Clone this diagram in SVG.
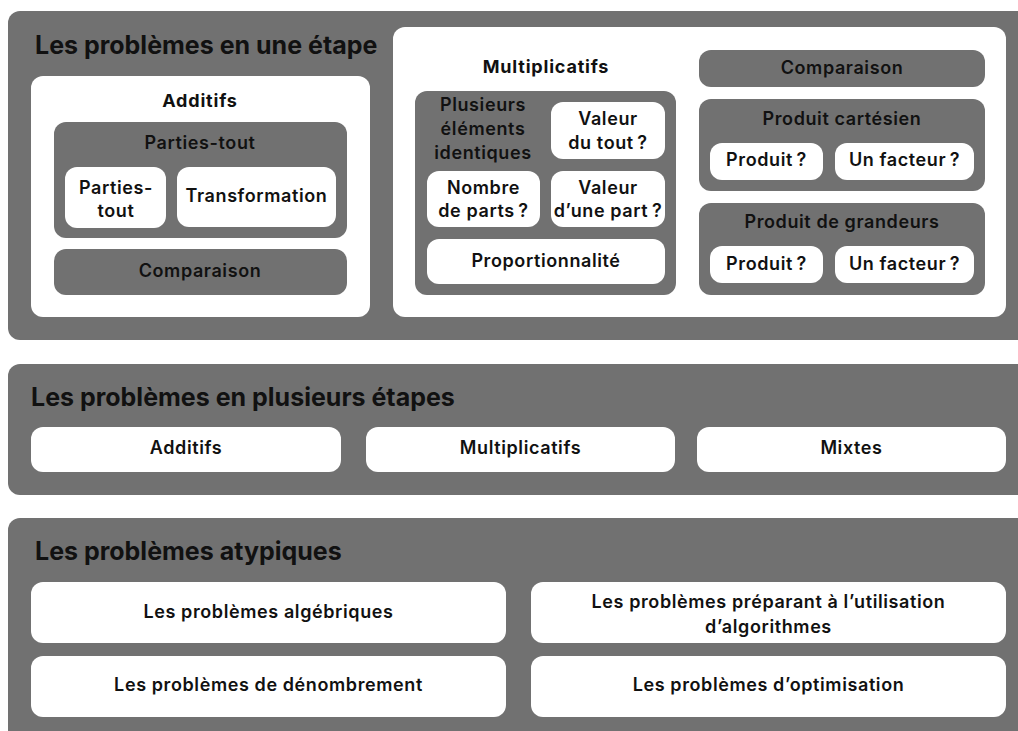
<svg xmlns="http://www.w3.org/2000/svg" width="1018" height="731" viewBox="0 0 1018 731">
<style>
.panel{fill:#717171}
.gray{fill:#717171}
.white{fill:#ffffff}
text{font-family:Inter,"Liberation Sans",sans-serif;fill:#111111;text-anchor:middle}
.h1{font-size:25px;font-weight:700;text-anchor:start}
.h2{font-size:18px;font-weight:700;letter-spacing:0.8px}
.lb{font-size:18px;font-weight:600;letter-spacing:0.6px}
</style>
<rect width="1018" height="731" fill="#ffffff"/>
<g id="panel-une-etape">
<rect class="panel" x="8" y="11" width="1030" height="329" rx="12"/>
<text class="h1" x="35" y="54">Les problèmes en une étape</text>
</g>
<g id="additifs">
<rect class="white" x="31" y="76" width="339" height="241" rx="12"/>
<text class="h2" x="200" y="107">Additifs</text>
</g>
<g id="parties-tout-group">
<rect class="gray" x="54" y="122" width="293" height="116" rx="12"/>
<text class="lb" x="200" y="149">Parties-tout</text>
</g>
<g id="parties-tout">
<rect class="white" x="65" y="167" width="101" height="61" rx="12"/>
<text class="lb" x="116" y="194">Parties-</text>
<text class="lb" x="116" y="217">tout</text>
</g>
<g id="transformation">
<rect class="white" x="177" y="167" width="159" height="60" rx="12"/>
<text class="lb" x="256.5" y="202">Transformation</text>
</g>
<g id="comparaison-add">
<rect class="gray" x="54" y="249" width="293" height="46" rx="12"/>
<text class="lb" x="200" y="277">Comparaison</text>
</g>
<g id="multiplicatifs">
<rect class="white" x="393" y="27" width="613" height="290" rx="12"/>
<text class="h2" x="546" y="73">Multiplicatifs</text>
</g>
<g id="plusieurs-elements">
<rect class="gray" x="415" y="91" width="261" height="204" rx="12"/>
<text class="lb" x="483" y="111">Plusieurs</text>
<text class="lb" x="483" y="135">éléments</text>
<text class="lb" x="483" y="159">identiques</text>
</g>
<g id="valeur-tout">
<rect class="white" x="551" y="102" width="114" height="57" rx="12"/>
<text class="lb" x="608" y="125">Valeur</text>
<text class="lb" x="608" y="149">du tout&#8239;?</text>
</g>
<g id="nombre-parts">
<rect class="white" x="427" y="171" width="113" height="56" rx="12"/>
<text class="lb" x="483.5" y="194">Nombre</text>
<text class="lb" x="483.5" y="217">de parts&#8239;?</text>
</g>
<g id="valeur-part">
<rect class="white" x="551" y="171" width="114" height="56" rx="12"/>
<text class="lb" x="608" y="194">Valeur</text>
<text class="lb" x="608" y="217" letter-spacing="0" font-size="17.5">d’une part&#8239;?</text>
</g>
<g id="proportionnalite">
<rect class="white" x="427" y="239" width="238" height="45" rx="12"/>
<text class="lb" x="546" y="267">Proportionnalité</text>
</g>
<g id="comparaison-mult">
<rect class="gray" x="699" y="50" width="286" height="37" rx="12"/>
<text class="lb" x="842" y="74">Comparaison</text>
</g>
<g id="produit-cartesien">
<rect class="gray" x="699" y="99" width="286" height="92" rx="12"/>
<text class="lb" x="842" y="125">Produit cartésien</text>
</g>
<g id="pc-produit">
<rect class="white" x="710" y="143" width="113" height="37" rx="12"/>
<text class="lb" x="766.5" y="166">Produit&#8239;?</text>
</g>
<g id="pc-facteur">
<rect class="white" x="835" y="143" width="139" height="37" rx="12"/>
<text class="lb" x="904.5" y="166">Un facteur&#8239;?</text>
</g>
<g id="produit-grandeurs">
<rect class="gray" x="699" y="203" width="286" height="92" rx="12"/>
<text class="lb" x="842" y="228">Produit de grandeurs</text>
</g>
<g id="pg-produit">
<rect class="white" x="710" y="246" width="113" height="37" rx="12"/>
<text class="lb" x="766.5" y="270">Produit&#8239;?</text>
</g>
<g id="pg-facteur">
<rect class="white" x="835" y="246" width="139" height="37" rx="12"/>
<text class="lb" x="904.5" y="270">Un facteur&#8239;?</text>
</g>
<g id="panel-plusieurs-etapes">
<rect class="panel" x="8" y="364" width="1030" height="131" rx="12"/>
<text class="h1" x="31" y="406">Les problèmes en plusieurs étapes</text>
</g>
<g id="pe-additifs">
<rect class="white" x="31" y="427" width="310" height="45" rx="12"/>
<text class="lb" x="186" y="454">Additifs</text>
</g>
<g id="pe-multiplicatifs">
<rect class="white" x="366" y="427" width="309" height="45" rx="12"/>
<text class="lb" x="520.5" y="454">Multiplicatifs</text>
</g>
<g id="pe-mixtes">
<rect class="white" x="697" y="427" width="309" height="45" rx="12"/>
<text class="lb" x="851.5" y="454">Mixtes</text>
</g>
<g id="panel-atypiques">
<rect class="panel" x="8" y="518" width="1030" height="225" rx="12"/>
<text class="h1" x="35" y="560">Les problèmes atypiques</text>
</g>
<g id="algebriques">
<rect class="white" x="31" y="582" width="475" height="61" rx="12"/>
<text class="lb" x="268.5" y="618">Les problèmes algébriques</text>
</g>
<g id="algorithmes">
<rect class="white" x="531" y="582" width="475" height="61" rx="12"/>
<text class="lb" x="768.5" y="608">Les problèmes préparant à l’utilisation</text>
<text class="lb" x="768.5" y="633">d’algorithmes</text>
</g>
<g id="denombrement">
<rect class="white" x="31" y="656" width="475" height="61" rx="12"/>
<text class="lb" x="268.5" y="691">Les problèmes de dénombrement</text>
</g>
<g id="optimisation">
<rect class="white" x="531" y="656" width="475" height="61" rx="12"/>
<text class="lb" x="768.5" y="691">Les problèmes d’optimisation</text>
</g>
<g id="connectors"></g>
</svg>
